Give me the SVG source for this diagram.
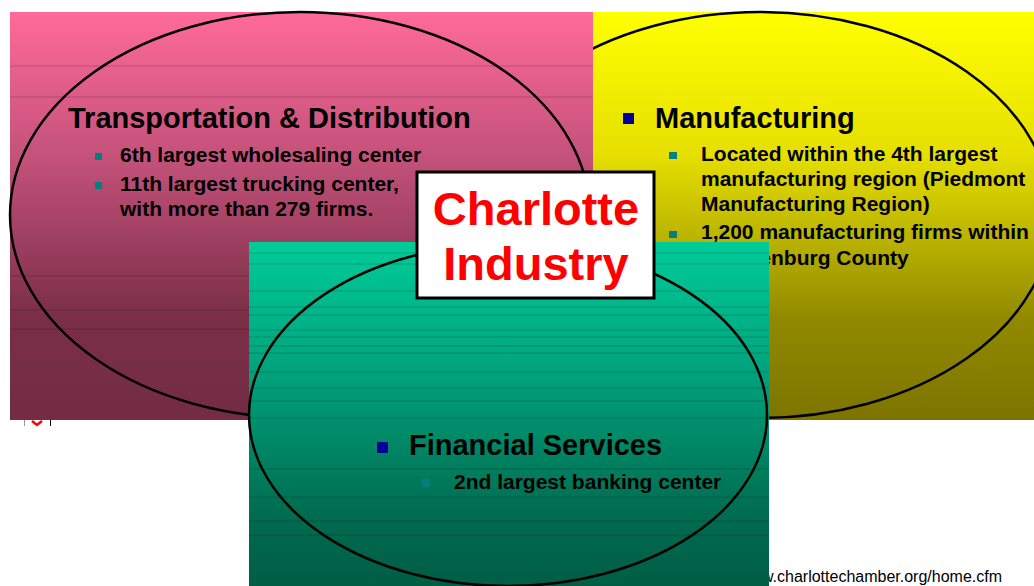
<svg xmlns="http://www.w3.org/2000/svg" width="1034" height="586" viewBox="0 0 1034 586">
<defs>
<linearGradient id="gPink" x1="0" y1="0" x2="0" y2="1">
<stop offset="0" stop-color="#FF6A9A"/>
<stop offset="0.35" stop-color="#C4527A"/>
<stop offset="0.75" stop-color="#7A2E48"/>
<stop offset="1" stop-color="#732C44"/>
</linearGradient>
<linearGradient id="gYellow" x1="0" y1="0" x2="0" y2="1">
<stop offset="0" stop-color="#FFFF00"/>
<stop offset="0.35" stop-color="#E6DF00"/>
<stop offset="0.75" stop-color="#918A00"/>
<stop offset="1" stop-color="#7D7400"/>
</linearGradient>
<linearGradient id="gGreen" x1="0" y1="0" x2="0" y2="1">
<stop offset="0" stop-color="#00CC99"/>
<stop offset="0.4" stop-color="#00A07A"/>
<stop offset="0.8" stop-color="#006B4F"/>
<stop offset="1" stop-color="#005E45"/>
</linearGradient>
</defs>
<style>
.ring{fill:none;stroke:#000;stroke-width:2.5}
.stripe{stroke:#000;stroke-opacity:0.18;stroke-width:1}
.head{font-family:"Liberation Sans",Arial,sans-serif;font-weight:bold;font-size:29px;fill:#000}
.sub{font-family:"Liberation Sans",Arial,sans-serif;font-weight:bold;font-size:21px;fill:#000}
.b1{fill:#000099}
.b2{fill:#008080}
.big{font-family:"Liberation Sans",Arial,sans-serif;font-weight:bold;font-size:47px;fill:#FF0000}
.url{font-family:"Liberation Sans",Arial,sans-serif;font-size:16px;fill:#000}
</style>
<rect width="1034" height="586" fill="#FFFFFF"/>

<g id="manufacturing">
<rect x="593" y="12" width="441" height="408" fill="url(#gYellow)"/>
<ellipse class="ring" cx="760" cy="215" rx="292" ry="203"/>
<rect class="b1" x="623" y="113" width="11" height="11"/>
<text class="head" x="655" y="128">Manufacturing</text>
<rect class="b2" x="669" y="152" width="8" height="7"/>
<text class="sub" x="701" y="161">Located within the 4th largest</text>
<text class="sub" x="701" y="186">manufacturing region (Piedmont</text>
<text class="sub" x="701" y="211">Manufacturing Region)</text>
<rect class="b2" x="669" y="231" width="8" height="7"/>
<text class="sub" x="701" y="239">1,200 manufacturing firms within</text>
<text class="sub" x="701" y="265">Mecklenburg County</text>
</g>

<g id="transportation">
<rect x="10" y="12" width="583" height="408" fill="url(#gPink)"/>
<g>
<line class="stripe" x1="10" y1="66" x2="593" y2="66"/>
<line class="stripe" x1="10" y1="97" x2="593" y2="97"/>
<line class="stripe" x1="10" y1="276" x2="593" y2="276"/>
<line class="stripe" x1="10" y1="310" x2="593" y2="310"/>
<line class="stripe" x1="10" y1="329" x2="593" y2="329"/>
</g>
<ellipse class="ring" cx="300" cy="215" rx="290" ry="203"/>
<text class="head" x="68" y="128">Transportation &amp; Distribution</text>
<rect class="b2" x="95" y="153" width="7" height="7"/>
<text class="sub" x="120" y="162">6th largest wholesaling center</text>
<rect class="b2" x="95" y="182" width="7" height="7"/>
<text class="sub" x="120" y="191">11th largest trucking center,</text>
<text class="sub" x="120" y="216">with more than 279 firms.</text>
</g>

<g id="broken-icon">
<line x1="24.5" y1="420" x2="24.5" y2="426" stroke="#999" stroke-width="1"/>
<path d="M32 421 L37 425 L42 421" fill="none" stroke="#FF0000" stroke-width="2.5"/>
<line x1="50.5" y1="420" x2="50.5" y2="426" stroke="#000" stroke-width="1"/>
</g>

<text id="source" class="url" x="1002" y="582" text-anchor="end">www.charlottechamber.org/home.cfm</text>

<g id="financial">
<rect x="249" y="242" width="520" height="344" fill="url(#gGreen)"/>
<g>
<line class="stripe" x1="249" y1="253" x2="769" y2="253"/>
<line class="stripe" x1="249" y1="264" x2="769" y2="264"/>
<line class="stripe" x1="249" y1="291" x2="769" y2="291"/>
<line class="stripe" x1="249" y1="307" x2="769" y2="307"/>
<line class="stripe" x1="249" y1="315" x2="769" y2="315"/>
<line class="stripe" x1="249" y1="330" x2="769" y2="330"/>
<line class="stripe" x1="249" y1="337" x2="769" y2="337"/>
<line class="stripe" x1="249" y1="346" x2="769" y2="346"/>
<line class="stripe" x1="249" y1="353" x2="769" y2="353"/>
<line class="stripe" x1="249" y1="372" x2="769" y2="372"/>
<line class="stripe" x1="249" y1="388" x2="769" y2="388"/>
<line class="stripe" x1="249" y1="401" x2="769" y2="401"/>
<line class="stripe" x1="249" y1="418" x2="769" y2="418"/>
<line class="stripe" x1="249" y1="469" x2="769" y2="469"/>
<line class="stripe" x1="249" y1="497" x2="769" y2="497"/>
<line class="stripe" x1="249" y1="521" x2="769" y2="521"/>
<line class="stripe" x1="249" y1="535" x2="769" y2="535"/>
</g>
<ellipse class="ring" cx="508" cy="415" rx="259" ry="171"/>
<rect class="b1" x="377" y="442" width="11" height="11"/>
<text class="head" x="409" y="455">Financial Services</text>
<rect class="b2" x="422" y="479" width="8" height="8"/>
<text class="sub" x="454" y="489">2nd largest banking center</text>
</g>

<g id="title">
<rect x="417" y="172" width="237" height="126" fill="#FFFFFF" stroke="#000" stroke-width="3"/>
<text class="big" x="536" y="225" text-anchor="middle">Charlotte</text>
<text class="big" x="536" y="280" text-anchor="middle">Industry</text>
</g>
</svg>
